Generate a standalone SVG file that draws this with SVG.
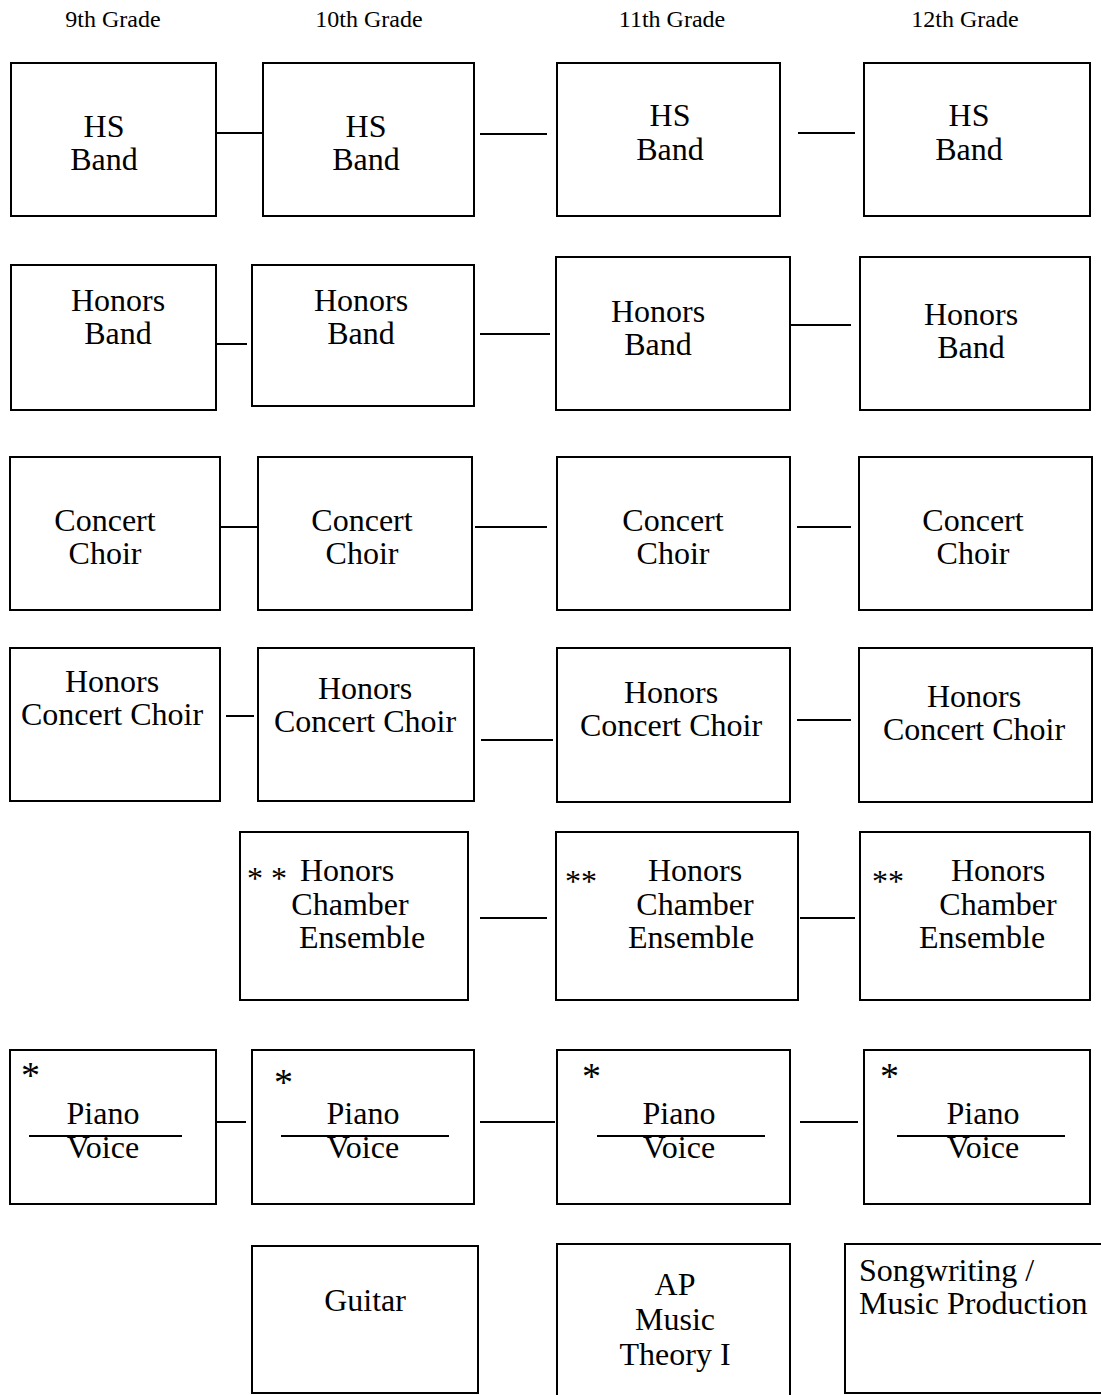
<svg xmlns="http://www.w3.org/2000/svg" width="1101" height="1395" viewBox="0 0 1101 1395">
<style>
text{font-family:"Liberation Serif","Times New Roman",serif;fill:#000}
.h{font-size:24px;text-anchor:middle}
.t{font-size:32px;text-anchor:middle}
.l{font-size:32px}
.a{font-size:38px}
.box{fill:#fff;stroke:#000;stroke-width:2}
.c line{stroke:#000;stroke-width:2}
.d{stroke:#000;stroke-width:2}
</style>
<rect width="1101" height="1395" fill="#fff"/>
<g id="headers">
<text class="h" x="113" y="27">9th Grade</text>
<text class="h" x="369" y="27">10th Grade</text>
<text class="h" x="672" y="27">11th Grade</text>
<text class="h" x="965" y="27">12th Grade</text>
</g>
<g class="c" id="connectors">
<line x1="216" y1="133" x2="263" y2="133"/>
<line x1="480" y1="134" x2="547" y2="134"/>
<line x1="798" y1="133" x2="855" y2="133"/>
<line x1="216" y1="344" x2="247" y2="344"/>
<line x1="480" y1="334" x2="550" y2="334"/>
<line x1="791" y1="325" x2="851" y2="325"/>
<line x1="216" y1="527" x2="258" y2="527"/>
<line x1="475" y1="527" x2="547" y2="527"/>
<line x1="797" y1="527" x2="851" y2="527"/>
<line x1="226" y1="716" x2="254" y2="716"/>
<line x1="481" y1="740" x2="553" y2="740"/>
<line x1="797" y1="720" x2="851" y2="720"/>
<line x1="480" y1="918" x2="547" y2="918"/>
<line x1="800" y1="918" x2="855" y2="918"/>
<line x1="216" y1="1122" x2="246" y2="1122"/>
<line x1="480" y1="1122" x2="555" y2="1122"/>
<line x1="800" y1="1122" x2="858" y2="1122"/>
</g>
<g id="hsband9"><rect class="box" x="11" y="63" width="205" height="153"/><text class="t" x="104" y="137">HS</text><text class="t" x="104" y="170">Band</text></g>
<g id="hsband10"><rect class="box" x="263" y="63" width="211" height="153"/><text class="t" x="366" y="137">HS</text><text class="t" x="366" y="170">Band</text></g>
<g id="hsband11"><rect class="box" x="557" y="63" width="223" height="153"/><text class="t" x="670" y="126">HS</text><text class="t" x="670" y="160">Band</text></g>
<g id="hsband12"><rect class="box" x="864" y="63" width="226" height="153"/><text class="t" x="969" y="126">HS</text><text class="t" x="969" y="160">Band</text></g>

<g id="honband9"><rect class="box" x="11" y="265" width="205" height="145"/><text class="t" x="118" y="311">Honors</text><text class="t" x="118" y="344">Band</text></g>
<g id="honband10"><rect class="box" x="252" y="265" width="222" height="141"/><text class="t" x="361" y="311">Honors</text><text class="t" x="361" y="344">Band</text></g>
<g id="honband11"><rect class="box" x="556" y="257" width="234" height="153"/><text class="t" x="658" y="322">Honors</text><text class="t" x="658" y="355">Band</text></g>
<g id="honband12"><rect class="box" x="860" y="257" width="230" height="153"/><text class="t" x="971" y="325">Honors</text><text class="t" x="971" y="358">Band</text></g>

<g id="choir9"><rect class="box" x="10" y="457" width="210" height="153"/><text class="t" x="105" y="531">Concert</text><text class="t" x="105" y="564">Choir</text></g>
<g id="choir10"><rect class="box" x="258" y="457" width="214" height="153"/><text class="t" x="362" y="531">Concert</text><text class="t" x="362" y="564">Choir</text></g>
<g id="choir11"><rect class="box" x="557" y="457" width="233" height="153"/><text class="t" x="673" y="531">Concert</text><text class="t" x="673" y="564">Choir</text></g>
<g id="choir12"><rect class="box" x="859" y="457" width="233" height="153"/><text class="t" x="973" y="531">Concert</text><text class="t" x="973" y="564">Choir</text></g>

<g id="honchoir9"><rect class="box" x="10" y="648" width="210" height="153"/><text class="t" x="112" y="692">Honors</text><text class="t" x="112" y="725">Concert Choir</text></g>
<g id="honchoir10"><rect class="box" x="258" y="648" width="216" height="153"/><text class="t" x="365" y="699">Honors</text><text class="t" x="365" y="732">Concert Choir</text></g>
<g id="honchoir11"><rect class="box" x="557" y="648" width="233" height="154"/><text class="t" x="671" y="703">Honors</text><text class="t" x="671" y="736">Concert Choir</text></g>
<g id="honchoir12"><rect class="box" x="859" y="648" width="233" height="154"/><text class="t" x="974" y="707">Honors</text><text class="t" x="974" y="740">Concert Choir</text></g>

<g id="chamber10"><rect class="box" x="240" y="832" width="228" height="168"/><text class="l" x="247" y="889">* *</text><text class="l" x="300" y="881">Honors</text><text class="t" x="350" y="915">Chamber</text><text class="t" x="362" y="948">Ensemble</text></g>
<g id="chamber11"><rect class="box" x="556" y="832" width="242" height="168"/><text class="l" x="565" y="892">**</text><text class="t" x="695" y="881">Honors</text><text class="t" x="695" y="915">Chamber</text><text class="t" x="691" y="948">Ensemble</text></g>
<g id="chamber12"><rect class="box" x="860" y="832" width="230" height="168"/><text class="l" x="872" y="892">**</text><text class="t" x="998" y="881">Honors</text><text class="t" x="998" y="915">Chamber</text><text class="t" x="982" y="948">Ensemble</text></g>

<g id="piano9"><rect class="box" x="10" y="1050" width="206" height="154"/><text class="a" x="21" y="1088">*</text><text class="t" x="103" y="1124">Piano</text><line class="d" x1="29" y1="1136" x2="182" y2="1136"/><text class="t" x="103" y="1158">Voice</text></g>
<g id="piano10"><rect class="box" x="252" y="1050" width="222" height="154"/><text class="a" x="274" y="1095">*</text><text class="t" x="363" y="1124">Piano</text><line class="d" x1="281" y1="1136" x2="449" y2="1136"/><text class="t" x="363" y="1158">Voice</text></g>
<g id="piano11"><rect class="box" x="557" y="1050" width="233" height="154"/><text class="a" x="582" y="1089">*</text><text class="t" x="679" y="1124">Piano</text><line class="d" x1="597" y1="1136" x2="765" y2="1136"/><text class="t" x="679" y="1158">Voice</text></g>
<g id="piano12"><rect class="box" x="864" y="1050" width="226" height="154"/><text class="a" x="880" y="1089">*</text><text class="t" x="983" y="1124">Piano</text><line class="d" x1="897" y1="1136" x2="1065" y2="1136"/><text class="t" x="983" y="1158">Voice</text></g>

<g id="guitar"><rect class="box" x="252" y="1246" width="226" height="147"/><text class="t" x="365" y="1311">Guitar</text></g>
<g id="aptheory"><rect class="box" x="557" y="1244" width="233" height="155"/><text class="t" x="675" y="1295">AP</text><text class="t" x="675" y="1330">Music</text><text class="t" x="675" y="1365">Theory I</text></g>
<g id="songwriting"><rect class="box" x="845" y="1244" width="260" height="149"/><text class="l" x="859" y="1281">Songwriting /</text><text class="l" x="859" y="1314">Music Production</text></g>
</svg>
